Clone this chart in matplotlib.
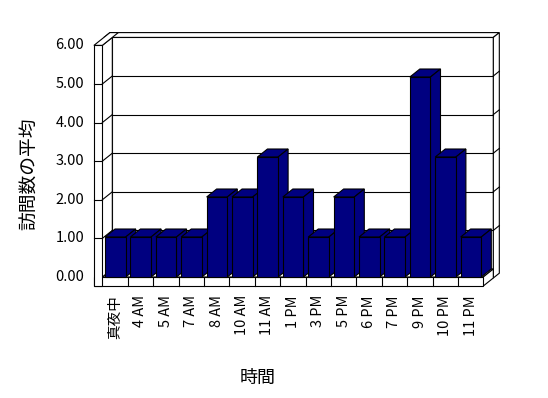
import matplotlib
matplotlib.use("Agg")
import matplotlib.pyplot as plt
from matplotlib.patches import Polygon

plt.rcParams['font.family'] = ['Noto Sans CJK JP', 'DejaVu Sans']

# data
hours = ['真夜中', '4 AM', '5 AM', '7 AM', '8 AM', '10 AM', '11 AM', '1 PM',
         '3 PM', '5 PM', '6 PM', '7 PM', '9 PM', '10 PM', '11 PM']
visits = [1, 1, 1, 1, 2, 2, 3, 2, 1, 2, 1, 1, 5, 3, 1]
y_ticks = [0, 1, 2, 3, 4, 5, 6]
y_labels = ['0.00', '1.00', '2.00', '3.00', '4.00', '5.00', '6.00']

# 3d look (in data units: x = categories, y = values)
DX, DY = 0.394, 0.2        # depth offset of one unit of depth
WALL_T = 0.33              # left wall thickness
FLOOR_T = 0.225            # floor thickness
BACK_D = 1.6               # depth where back wall ends
WALL_K = 0.965             # walls are drawn a bit smaller than bars
BAR_L, BAR_W = 0.108, 0.813
navy = '#000080'
n = len(hours)
top = WALL_K * y_ticks[-1]


def proj(u, v, d):
    return (u + d * DX, v + d * DY)


def face(ax, pts, color='white', z=1):
    ax.add_patch(Polygon([proj(*p) for p in pts], closed=True, facecolor=color,
                         edgecolor='black', linewidth=0.8, zorder=z))


def line(ax, p0, p1, z=2):
    a, b = proj(*p0), proj(*p1)
    ax.plot([a[0], b[0]], [a[1], b[1]], color='black', lw=0.8, zorder=z)


fig = plt.figure(figsize=(5.48, 3.98), dpi=100)
ax = fig.add_axes([0, 0, 1, 1])
ax.set_xlim(-102.3 / 25.4, (548 - 102.3) / 25.4)
ax.set_ylim((277 - 398) / 40, 277 / 40)
ax.axis('off')

# back wall slab
face(ax, [(0, 0, 1), (n, 0, 1), (n, top, 1), (0, top, 1)])
face(ax, [(-WALL_T, top, 1), (n, top, 1), (n, top, BACK_D), (-WALL_T, top, BACK_D)])
face(ax, [(n, -FLOOR_T, 1), (n, -FLOOR_T, BACK_D), (n, top, BACK_D), (n, top, 1)])

# floor slab
face(ax, [(0, 0, 0), (n, 0, 0), (n, 0, 1), (0, 0, 1)])
face(ax, [(n, -FLOOR_T, 0), (n, -FLOOR_T, 1), (n, 0, 1), (n, 0, 0)])
face(ax, [(-WALL_T, -FLOOR_T, 0), (n, -FLOOR_T, 0), (n, 0, 0), (-WALL_T, 0, 0)])
for i in range(1, n):
    line(ax, (i, -FLOOR_T, 0), (i, 0, 0))

# left wall slab
face(ax, [(0, 0, 0), (0, 0, 1), (0, top, 1), (0, top, 0)])
face(ax, [(-WALL_T, top, 0), (0, top, 0), (0, top, BACK_D), (-WALL_T, top, BACK_D)])
face(ax, [(-WALL_T, -FLOOR_T, 0), (0, -FLOOR_T, 0), (0, top, 0), (-WALL_T, top, 0)])

# gridlines on the walls
for g in y_ticks[1:-1]:
    wv = WALL_K * g
    line(ax, (0, wv, 1), (n, wv, 1))
    line(ax, (0, wv, 0), (0, wv, 1))
    line(ax, (-WALL_T, wv, 0), (0, wv, 0))
    line(ax, (n, wv, 1), (n, wv, BACK_D))

# bars, left to right so each one hides the side of the previous one
for i, h in enumerate(visits):
    x0, x1 = i + BAR_L, i + BAR_L + BAR_W
    z = 3 + i * 0.01
    face(ax, [(x0, h, 0), (x1, h, 0), (x1, h, 1), (x0, h, 1)], navy, z)
    face(ax, [(x1, 0, 0), (x1, 0, 1), (x1, h, 1), (x1, h, 0)], navy, z)
    face(ax, [(x0, 0, 0), (x1, 0, 0), (x1, h, 0), (x0, h, 0)], navy, z)

# tick labels
for g, lab in zip(y_ticks, y_labels):
    ax.text(-0.72, WALL_K * g, lab, ha='right', va='center', fontsize=10.5)
for i, lab in enumerate(hours):
    ax.text(i + 0.5, -0.45, lab, rotation=90, ha='center', va='top', fontsize=10.5)

fig.text(30 / 548, 1 - 174 / 398, '訪問数の平均', rotation=90, ha='center', va='center',
         fontsize=13.5)
fig.text(258 / 548, 1 - 378 / 398, '時間', ha='center', va='center', fontsize=13)

fig.savefig('out.png', dpi=100)
